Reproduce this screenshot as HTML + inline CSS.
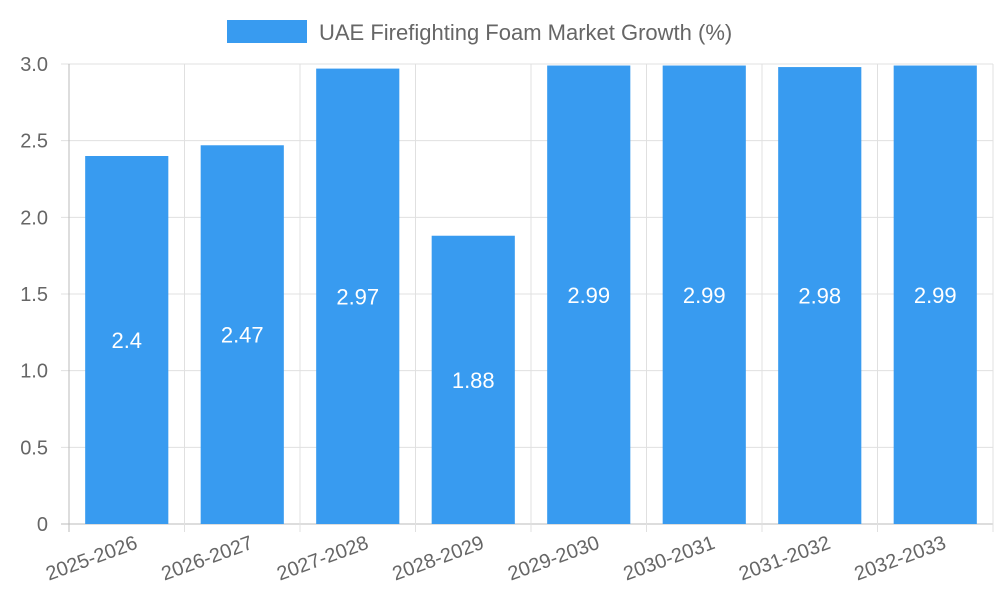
<!DOCTYPE html>
<html><head><meta charset="utf-8">
<style>
html,body{margin:0;padding:0;background:#fff;}
svg{display:block;font-family:"Liberation Sans",Arial,sans-serif;}
</style></head>
<body>
<svg id="chart" width="1000" height="600" viewBox="0 0 1000 600">
  <g>
    <rect x="227" y="20" width="80" height="23" fill="#389bf0"></rect>
    <text x="319" y="40" font-size="22" fill="#666">UAE Firefighting Foam Market Growth (%)</text>
  </g>
  <g id="grid"></g>
  <g id="bars"></g>
  <g id="axes"></g>
</svg>
<script>
const categories = ["2025-2026","2026-2027","2027-2028","2028-2029","2029-2030","2030-2031","2031-2032","2032-2033"];
const values = [2.4, 2.47, 2.97, 1.88, 2.99, 2.99, 2.98, 2.99];
const valueLabels = ["2.4","2.47","2.97","1.88","2.99","2.99","2.98","2.99"];
const yTicks = [0, 0.5, 1.0, 1.5, 2.0, 2.5, 3.0];
const yTickLabels = ["0","0.5","1.0","1.5","2.0","2.5","3.0"];

const NS = "http://www.w3.org/2000/svg";
const L = 69, R = 993, T = 64, B = 524, yMax = 3.0;
const band = (R - L) / categories.length;
const xAt = i => L + band * i;
const y = v => B - (v / yMax) * (B - T);
function mk(tag, attrs, parent){
  const e = document.createElementNS(NS, tag);
  for (const k in attrs) e.setAttribute(k, attrs[k]);
  parent.appendChild(e);
  return e;
}
const grid = document.getElementById('grid');
const bars = document.getElementById('bars');
const axes = document.getElementById('axes');

yTicks.forEach((t, i) => {
  const ln = mk('line', {x1: L - 8, x2: R, y1: y(t), y2: y(t), stroke: i === 0 ? '#bbb' : '#e0e0e0', 'stroke-width': 1}, grid);
  
  
  const tx = mk('text', {x: 48, y: y(t) + 7, 'text-anchor': 'end', 'font-size': 20, fill: '#666'}, axes);
  tx.textContent = yTickLabels[i];
  
  
});
for (let i = 0; i <= categories.length; i++) {
  const ln = mk('line', {x1: xAt(i), x2: xAt(i), y1: T, y2: B + 8, stroke: i === 0 ? '#bbb' : '#e0e0e0', 'stroke-width': 1}, grid);
  
  
}
categories.forEach((c, i) => {
  const bw = band * 0.72;
  const bx = xAt(i) + (band - bw) / 2;
  const r = mk('rect', {x: bx, y: y(values[i]), width: bw, height: B - y(values[i]), fill: '#389bf0'}, bars);
  
  
  const vl = mk('text', {x: bx + bw / 2, y: (y(values[i]) + B) / 2 + 8, 'text-anchor': 'middle', 'font-size': 22, fill: '#fff'}, bars);
  vl.textContent = valueLabels[i];
  
  
  const cx = xAt(i) + band / 2 + 12;
  const xl = mk('text', {x: cx, y: 548, 'text-anchor': 'end', 'font-size': 20, fill: '#666', transform: 'rotate(-20 ' + cx + ' 548)'}, axes);
  xl.textContent = c;
  
  
});
</script>
</body></html>
